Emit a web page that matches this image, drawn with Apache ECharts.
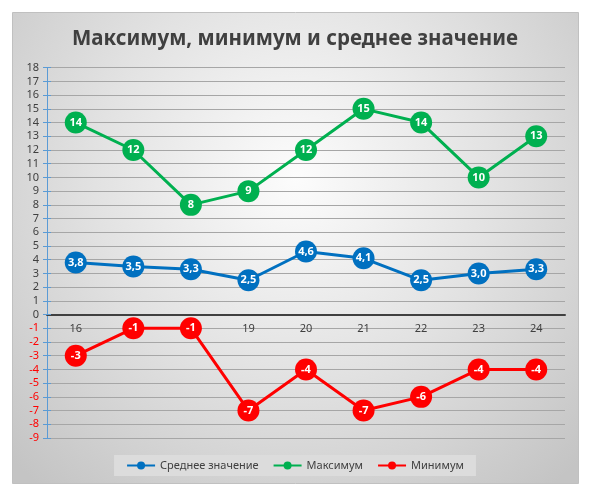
<!DOCTYPE html>
<html>
<head>
<meta charset="utf-8">
<script src="https://cdn.jsdelivr.net/npm/echarts@6/dist/echarts.min.js"></script>
<style>
html,body{margin:0;padding:0;background:#fff;}
#c{width:590px;height:492px;}
</style>
</head>
<body>
<div id="c"></div>
<script>
var categories = ['16','17','18','19','20','21','22','23','24'];
var avgValues = [3.8, 3.5, 3.3, 2.5, 4.6, 4.1, 2.5, 3.0, 3.3];
var maxValues = [14, 12, 8, 9, 12, 15, 14, 10, 13];
var minValues = [-3, -1, -1, -7, -4, -7, -6, -4, -4];
var seriesNames = ['Среднее значение', 'Максимум', 'Минимум'];
var titleText = 'Максимум, минимум и среднее значение';

var chart = echarts.init(document.getElementById('c'));
var font = 'Noto Sans';
var gridTop = 67.7, gridBottom = 54, yMin = -9, yMax = 18;
var plotH = 492 - gridTop - gridBottom;
var zeroOffset = -(plotH * (0 - yMin) / (yMax - yMin));
function lbl(dec){
  return {
    show:true, position:'inside', color:'#fff', fontWeight:'bold', fontSize:11, fontFamily:font,
    formatter:function(p){ return (dec ? p.value.toFixed(1) : String(p.value)).replace('.', ','); }
  };
}
function mk(name, data, color, dec){
  return {
    name:name, type:'line', data:data, symbol:'circle', symbolSize:22,
    lineStyle:{color:color, width:3}, itemStyle:{color:color},
    label:lbl(dec), emphasis:{disabled:true}, z:3
  };
}
chart.setOption({
  animation:false,
  graphic:[{
    type:'rect', left:12, top:12, z:-10, silent:true,
    shape:{width:566, height:471},
    style:{
      fill:{type:'radial', x:0.5, y:0.35, r:0.85, colorStops:[{offset:0,color:'#fcfcfc'},{offset:0.5,color:'#e2e2e2'},{offset:1,color:'#c4c4c4'}]},
      stroke:'#c0c0c0', lineWidth:1
    }
  }],
  title:{text:titleText, left:'center', top:24, textStyle:{fontFamily:font, fontSize:20.5, fontWeight:'bold', color:'#404040'}},
  legend:{
    data:seriesNames, bottom:16, left:'center', backgroundColor:'#dcdcdc', padding:[5,12],
    itemWidth:28, itemHeight:10, itemGap:14,
    textStyle:{fontFamily:font, fontSize:11, color:'#404040'}
  },
  grid:{left:47, right:25, top:gridTop, bottom:gridBottom, containLabel:false},
  xAxis:{
    type:'category', data:categories, boundaryGap:true, offset:zeroOffset,
    axisLine:{onZero:false, lineStyle:{color:'#404040', width:2}},
    axisTick:{show:false},
    axisLabel:{fontFamily:font, fontSize:11, color:'#404040', margin:9},
    splitLine:{show:false}
  },
  yAxis:[{
    type:'value', min:yMin, max:yMax, interval:1,
    axisLine:{show:true, lineStyle:{color:'#5b9bd5', width:1}},
    axisTick:{show:true, length:4, lineStyle:{color:'#5b9bd5'}},
    axisLabel:{fontFamily:font, fontSize:11, margin:8,
      color:function(v){ return Number(v) < 0 ? '#ff0000' : '#404040'; }},
    splitLine:{show:true, lineStyle:{color:'#a6a6a6', width:1}}
  },{
    type:'value', min:yMin, max:yMax, interval:1, position:'left',
    axisLine:{show:false},
    axisTick:{show:true, inside:true, length:4, lineStyle:{color:'#5b9bd5'}},
    axisLabel:{show:false}, splitLine:{show:false}
  }],
  series:[
    mk(seriesNames[0], avgValues, '#0070c0', true),
    mk(seriesNames[1], maxValues, '#00b050', false),
    mk(seriesNames[2], minValues, '#ff0000', false)
  ]
});
</script>
</body>
</html>
